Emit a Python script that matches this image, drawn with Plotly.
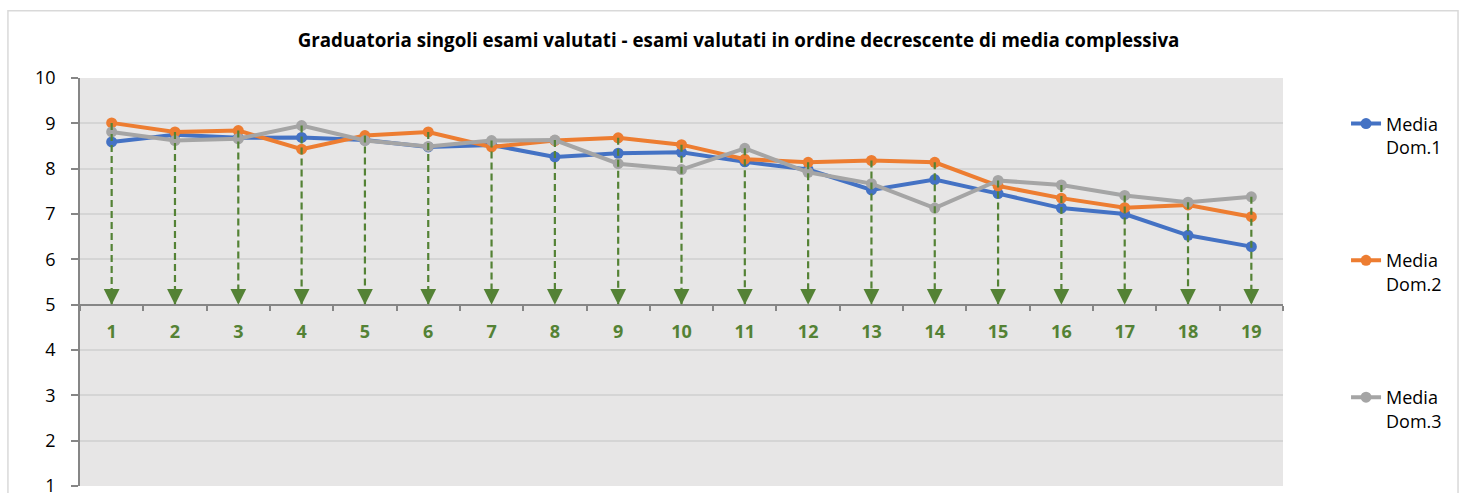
import plotly.graph_objects as go

# ---- data ----
categories = [str(i) for i in range(1, 20)]
media_dom1 = [8.59, 8.75, 8.68, 8.69, 8.63, 8.48, 8.52, 8.26, 8.34, 8.36, 8.15, 7.98, 7.53, 7.76, 7.45, 7.13, 7.00, 6.53, 6.28]
media_dom2 = [9.01, 8.81, 8.84, 8.43, 8.73, 8.81, 8.48, 8.62, 8.68, 8.53, 8.21, 8.14, 8.18, 8.14, 7.62, 7.35, 7.14, 7.20, 6.94]
media_dom3 = [8.81, 8.62, 8.66, 8.95, 8.62, 8.49, 8.62, 8.63, 8.11, 7.98, 8.45, 7.92, 7.67, 7.13, 7.74, 7.64, 7.41, 7.26, 7.38]
series_names = ["Media<br>Dom.1", "Media<br>Dom.2", "Media<br>Dom.3"]
series_colors = ["#4472C4", "#ED7D31", "#A5A5A5"]
y_min, y_max, x_cross = 1, 10, 5
title_text = "Graduatoria singoli esami valutati - esami valutati in ordine decrescente di media complessiva"

FONT = "Open Sans"
GREEN = "#548235"

fig = go.Figure()

for i, (vals, name, col) in enumerate(zip([media_dom1, media_dom2, media_dom3], series_names, series_colors)):
    fig.add_trace(go.Scatter(
        x=categories, y=vals, name=name, mode="lines+markers",
        line=dict(color=col, width=4), marker=dict(color=col, size=11),
        legendgroup=f"g{i}",
    ))

# drop lines from the highest point of each category down to the crossing axis
drop_x, drop_y = [], []
for c, a, b, d in zip(categories, media_dom1, media_dom2, media_dom3):
    drop_x += [c, c, None]
    drop_y += [max(a, b, d), x_cross, None]
fig.add_trace(go.Scatter(
    x=drop_x, y=drop_y, mode="lines", showlegend=False, hoverinfo="skip",
    line=dict(color=GREEN, width=2.2, dash="7px,4px"),
))

# arrow heads at the end of each drop line (category index positions)
for idx, _ in enumerate(categories):
    fig.add_annotation(
        x=idx, y=x_cross, xref="x", yref="y", text="", showarrow=True,
        ax=0, ay=-15, arrowhead=2, arrowsize=2.1, arrowwidth=1.5,
        arrowcolor=GREEN, standoff=0,
    )

# outer chart frame
fig.add_shape(type="rect", xref="paper", yref="paper",
              x0=-0.0599, x1=1.1455, y0=-0.2, y1=1.165,
              line=dict(color="#D9D9D9", width=1.5), fillcolor="rgba(0,0,0,0)", layer="below")

fig.update_layout(
    width=1467, height=493,
    margin=dict(l=80, r=184, t=78, b=7),
    paper_bgcolor="white", plot_bgcolor="#E7E6E6",
    font=dict(family=FONT, color="#000000", size=18),
    title=dict(text=f"<b>{title_text}</b>", x=738.5 / 1467, xanchor="center",
               y=1 - 40 / 493, yanchor="middle", font=dict(family=FONT, size=18.75, color="#000000")),
    showlegend=True,
    legend=dict(x=1.0524, xanchor="left", y=0.933, yanchor="top", valign="top",
                tracegroupgap=87, font=dict(family=FONT, size=18, color="#000000"),
                bgcolor="rgba(0,0,0,0)"),
    xaxis=dict(
        type="category", range=[-0.5, len(categories) - 0.5],
        anchor="free", position=(x_cross - y_min) / (y_max - y_min),
        showline=True, linecolor="#868686", linewidth=2,
        ticks="outside", tickson="boundaries", ticklen=5, tickcolor="#868686", tickwidth=1.5,
        showgrid=False, zeroline=False, ticklabelstandoff=11, automargin=False,
        tickfont=dict(family=FONT, size=18, color=GREEN, weight="bold"),
    ),
    yaxis=dict(
        range=[y_min, y_max], dtick=1, tick0=0,
        showline=True, linecolor="#868686", linewidth=1.5,
        ticks="outside", ticklen=7, tickcolor="#868686", tickwidth=1.5,
        showgrid=True, gridcolor="#D5D5D5", gridwidth=1.5, zeroline=False,
        ticklabelstandoff=12, ticklabeloverflow="allow", automargin=False,
        tickfont=dict(family=FONT, size=18, color="#000000"),
    ),
)

fig.write_html("out.html", config={"displayModeBar": False},
               post_script="document.body.style.margin='0px';")
